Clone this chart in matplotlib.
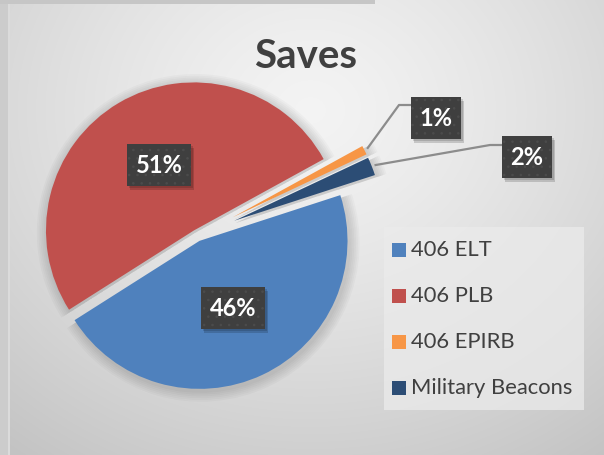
import numpy as np
import matplotlib
matplotlib.use("Agg")
import matplotlib.pyplot as plt
from matplotlib.patches import Rectangle

# Chart data
labels = ["406 ELT", "406 PLB", "406 EPIRB", "Military Beacons"]
values = [46, 51, 1, 2]
colors = ["#4f81bd", "#c0504d", "#f79646", "#2c4d75"]
explode = [0.04, 0.04, 0.27, 0.27]
title = "Saves"

# Layout (pixels)
W, H = 604, 455
CX, CY, R = 197, 235.5, 148     # pie centre and radius in pixels
FONT = "Lato"
plt.rcParams["hatch.linewidth"] = 0.6


def px(x, y):
    """pixel position (top-left origin) -> pie data coords"""
    return (x - CX) / R, (CY - y) / R


fig = plt.figure(figsize=(W / 100, H / 100), dpi=100)

# background: radial grey gradient like the Excel chart area
bg = fig.add_axes([0, 0, 1, 1])
yy, xx = np.mgrid[0:H, 0:W]
dist = np.sqrt(((xx - 310) / 1.15) ** 2 + (yy - 110) ** 2)
t = np.clip(dist / 430, 0, 1) ** 1.3
grey = 0.955 - t * (0.955 - 0.765)
img = np.dstack([grey, grey, grey])
img[:, :10] = 0.80
img[:, 8:10] = 0.86
img[:4, :375] = 0.78
bg.imshow(img, extent=(0, W, H, 0), interpolation="bilinear")
bg.set_xlim(0, W)
bg.set_ylim(H, 0)
bg.axis("off")

# pie axes, 1 data unit = R pixels
ax = fig.add_axes([0, 0, 1, 1])
ax.set_facecolor("none")
total = sum(values)

# soft shadow under the slices
for k in range(6):
    sw, _ = ax.pie(values, explode=explode, startangle=18, counterclock=False,
                   radius=1.0 + 0.012 * (k + 1), colors=["black"] * len(values),
                   center=(0.01, -0.015), wedgeprops=dict(alpha=0.022, linewidth=0))

wedges, _ = ax.pie(values, explode=explode, startangle=18, counterclock=False,
                   colors=colors, radius=1.0, wedgeprops=dict(linewidth=0))
ax.set_xlim(-CX / R, (W - CX) / R)
ax.set_ylim(-(H - CY) / R, CY / R)
ax.set_aspect("auto")
ax.axis("off")


def label_box(cx, cy, w, h, text):
    x0, y0 = px(cx - w / 2, cy + h / 2)
    ax.add_patch(Rectangle((x0 + 3 / R, y0 - 4 / R), w / R, h / R,
                           facecolor="#000000", alpha=0.16, lw=0, zorder=5))
    ax.add_patch(Rectangle((x0 + 1.5 / R, y0 - 2 / R), w / R, h / R,
                           facecolor="#000000", alpha=0.14, lw=0, zorder=5))
    ax.add_patch(Rectangle((x0, y0), w / R, h / R, facecolor="#3f3f3f",
                           edgecolor="#4c4c4c", hatch="..", lw=0, zorder=6))
    tx, ty = px(cx, cy)
    ax.text(tx, ty, text, color="white", fontsize=17, fontweight="bold",
            family=FONT, ha="center", va="center", zorder=7)


pct = [f"{round(100 * v / total)}%" for v in values]

# inside labels
label_box(159, 165, 64, 42, pct[1])
label_box(233, 308, 64, 42, pct[0])

# outside labels with leader lines
outside = [(2, (436, 118), (399, 105), (411, 105)),
           (3, (527, 157), (490, 145), (502, 145))]
for i, box_c, elbow, end in outside:
    w = wedges[i]
    thm = np.deg2rad((w.theta1 + w.theta2) / 2)
    sx = w.center[0] + w.r * np.cos(thm) + 0.02 * np.cos(thm)
    sy = w.center[1] + w.r * np.sin(thm) + 0.02 * np.sin(thm)
    ex, ey = px(*elbow)
    fx, fy = px(*end)
    ax.plot([sx, ex, fx], [sy, ey, fy], color="#8c8c8c", lw=1.6, zorder=4,
            solid_capstyle="butt")
    label_box(box_c[0], box_c[1], 50, 42, pct[i])

# title
tx, ty = px(306, 56)
ax.text(tx, ty, title, fontsize=29, fontweight="bold", color="#404040",
        family=FONT, ha="center", va="center")

# legend
lx0, ly0 = px(384, 410)
ax.add_patch(Rectangle((lx0, ly0), 200 / R, 183 / R, facecolor="#ebebeb",
                       alpha=0.75, lw=0, zorder=3))
for k, (lab, col) in enumerate(zip(labels, colors)):
    yc = 250 + 46 * k
    sx, sy = px(392, yc + 7)
    ax.add_patch(Rectangle((sx, sy), 14 / R, 14 / R, facecolor=col, lw=0, zorder=4))
    tx, ty = px(411, yc)
    ax.text(tx, ty, lab, fontsize=15.8, color="#404040", family=FONT,
            ha="left", va="center", zorder=4)

fig.savefig("out.png", dpi=100)
